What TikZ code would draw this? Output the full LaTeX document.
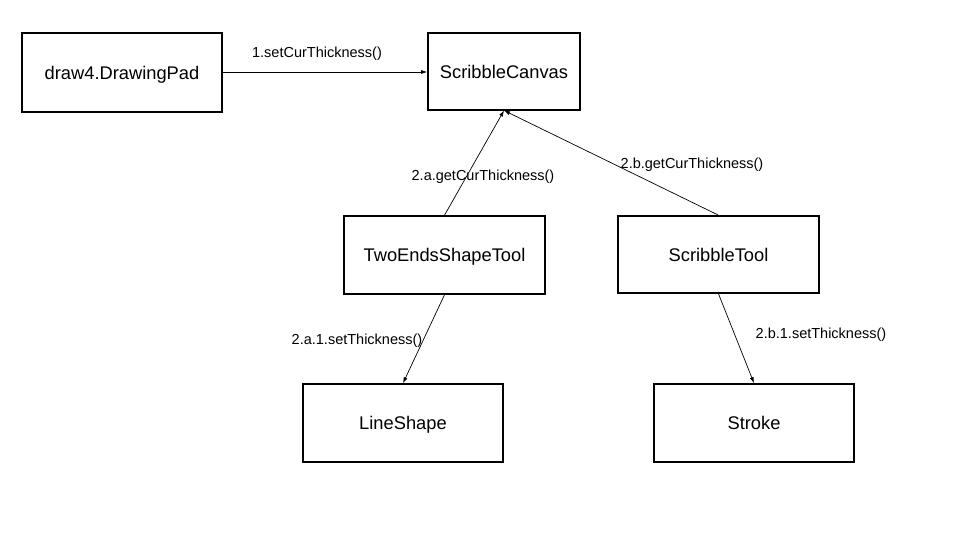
\documentclass[tikz,border=0pt]{standalone}
\usepackage{fontspec}
\setmainfont{Liberation Sans}
\usetikzlibrary{arrows.meta}
\begin{document}
\begin{tikzpicture}[x=1pt,y=-1pt,
  box/.style={draw, line width=1.6pt, minimum width=#1, minimum height=78pt, inner sep=0pt, text height=17pt, text depth=3.5pt, font=\fontsize{18.3}{20}\selectfont},
  box/.default=200pt,
  conn/.style={draw, line width=0.7pt, -{Latex[length=6pt,width=4pt]}},
  lab/.style={font=\fontsize{14.5}{16}\selectfont, inner sep=0pt, text height=13.5pt, text depth=2pt}]
\useasboundingbox[fill=white] (0,0) rectangle (964,557);
\node[box=200pt, minimum height=79pt] (pad) at (122,72.5) {draw4.DrawingPad};
\node[box=152pt, minimum height=77pt] (canvas) at (504,71.5) {ScribbleCanvas};
\node[box=201pt] (two) at (444.5,255) {TwoEndsShapeTool};
\node[box=201pt, minimum height=77pt] (stool) at (718.5,254.5) {ScribbleTool};
\node[box] (line) at (403,423) {LineShape};
\node[box] (stroke) at (754,423) {Stroke};
\coordinate (cin) at (504,110.5);
\draw[conn] (pad.east |- 0,72) -- (canvas.west |- 0,72);
\draw[conn] (two.north) -- (cin);
\draw[conn] (stool.north) -- (cin);
\draw[conn] (two.south) -- (line.north);
\draw[conn] (stool.south) -- (stroke.north);
\node[lab] (l1) at (317,52) {1.setCurThickness()};
\node[lab] (l2) at (483,175) {2.a.getCurThickness()};
\node[lab] (l3) at (692,163) {2.b.getCurThickness()};
\node[lab] (l4) at (357,339) {2.a.1.setThickness()};
\node[lab] (l5) at (821,333) {2.b.1.setThickness()};
\end{tikzpicture}
\end{document}
